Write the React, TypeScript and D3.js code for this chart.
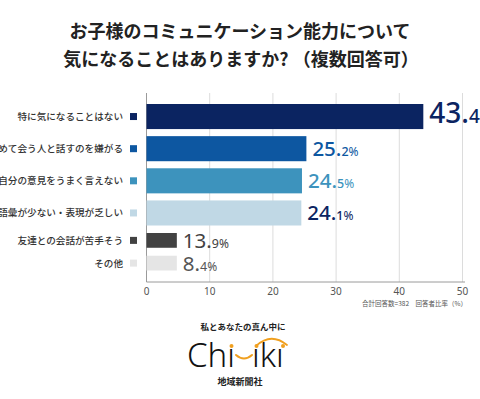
import React from 'react';
import * as d3 from 'd3';

// categories (top to bottom)
const categories = [
  '特に気になることはない',
  '初めて会う人と話すのを嫌がる',
  '自分の意見をうまく言えない',
  '語彙が少ない・表現が乏しい',
  '友達との会話が苦手そう',
  'その他',
];
// percentages shown in the labels
const percents = [43.4, 25.2, 24.5, 24.1, 13.9, 8.4];
// bar lengths as drawn in the picture
const barLengths = [43.8, 25.3, 24.6, 24.5, 4.8, 4.8];
const xTicks = [0, 10, 20, 30, 40, 50];

const barColors = ['#0b2461', '#0d57a1', '#3d93bd', '#c0d8e5', '#424242', '#e5e5e5'];
const valueColors = ['#0b2461', '#0d57a1', '#3d93bd', '#0b2461', '#424242', '#555555'];

const W = 480;
const H = 399;
const jp = '"Noto Sans CJK JP", "Noto Sans", sans-serif';
const num = '"Noto Sans", Roboto, sans-serif';

const App = () => {
  const x = d3.scaleLinear().domain([0, 50]).range([146.5, 462.5]);

  // first four rows are taller than the last two
  const yTop = d3.scaleBand<string>()
    .domain(categories.slice(0, 4))
    .range([104, 225.5])
    .paddingInner(0.22);
  const yBottom = d3.scaleBand<string>()
    .domain(categories.slice(4))
    .range([233, 270.5])
    .paddingInner(0.35);
  const yOf = (c: string, i: number) => (i < 4 ? yTop(c)! : yBottom(c)!);
  const hOf = (i: number) => (i < 4 ? yTop.bandwidth() : yBottom.bandwidth());

  const plotTop = 93;
  const plotBottom = 282;

  return (
    <svg width={W} height={H} style={{ position: 'absolute', left: 0, top: 0, background: '#fff' }}>
      {/* title */}
      <text x={240} y={38} textAnchor="middle" fontFamily={jp} fontSize={18} fontWeight={700} fill="#222">
        お子様のコミュニケーション能力について
      </text>
      <text x={241} y={66} textAnchor="middle" fontFamily={jp} fontSize={18} fontWeight={700} fill="#222">
        気になることはありますか? （複数回答可）
      </text>

      {/* grid */}
      {xTicks.slice(1).map(t => (
        <line key={t} x1={x(t)} x2={x(t)} y1={plotTop} y2={plotBottom} stroke="#dcdcdc" strokeWidth={1} />
      ))}
      <line x1={x(0)} x2={x(0)} y1={plotTop} y2={plotBottom} stroke="#9a9a9a" strokeWidth={1} />
      <line x1={x(0)} x2={465} y1={plotBottom} y2={plotBottom} stroke="#9a9a9a" strokeWidth={1} />

      {/* tick labels */}
      {xTicks.map(t => (
        <text key={t} x={x(t)} y={295} textAnchor="middle" fontFamily={num} fontSize={10} fill="#555">
          {t}
        </text>
      ))}
      <text x={467} y={306} textAnchor="end" fontFamily={jp} fontSize={6.5} fill="#555">
        合計回答数=382　回答者比率（%）
      </text>

      {/* bars */}
      {categories.map((c, i) => {
        const y0 = yOf(c, i);
        const h = hOf(i);
        const cy = y0 + h / 2;
        const big = i === 0;
        const [intPart, decPart] = percents[i].toFixed(1).split('.');
        return (
          <g key={c}>
            <text x={123} y={cy + 3.5} textAnchor="end" fontFamily={jp} fontSize={9.6} fontWeight={500} fill="#333">
              {c}
            </text>
            <rect x={130} y={cy - 3.5} width={7} height={7} fill={barColors[i]} />
            <rect x={x(0)} y={y0} width={x(barLengths[i]) - x(0)} height={h} fill={barColors[i]} />
            <text
              x={x(barLengths[i]) + 6}
              y={big ? cy + 6 : cy + 7.5}
              fontFamily={num}
              fontWeight={i < 4 ? 500 : 400}
              fill={valueColors[i]}
            >
              <tspan fontSize={big ? 28 : 20.5}>{intPart}.</tspan>
              <tspan fontSize={big ? 19 : 12.5}>{decPart}</tspan>
              <tspan fontSize={big ? 15 : 12} fontWeight={400}>%</tspan>
            </text>
          </g>
        );
      })}

      {/* logo */}
      <text x={243} y={330} textAnchor="middle" fontFamily={jp} fontSize={8.5} fontWeight={700} fill="#222">
        私とあなたの真ん中に
      </text>
      <g fontFamily={num} fontSize={33} fontWeight={300} fill="#111">
        <text x={187} y={367}>Chı</text>
        <text x={252} y={367}>ıkı</text>
      </g>
      <g fill="#f0a020" stroke="none">
        <circle cx={231.5} cy={346} r={2} />
        <circle cx={256.5} cy={346} r={2} />
        <circle cx={283} cy={346} r={2} />
      </g>
      <path d="M236,355 Q244,362 252,355" fill="none" stroke="#f0a020" strokeWidth={2} strokeLinecap="round" />
      <path d="M256,346 Q271,332 287,345" fill="none" stroke="#f0a020" strokeWidth={1.8} strokeLinecap="round" />
      <text x={240} y={385} textAnchor="middle" fontFamily={jp} fontSize={9} fontWeight={700} fill="#222">
        地域新聞社
      </text>
    </svg>
  );
};

export default App;
